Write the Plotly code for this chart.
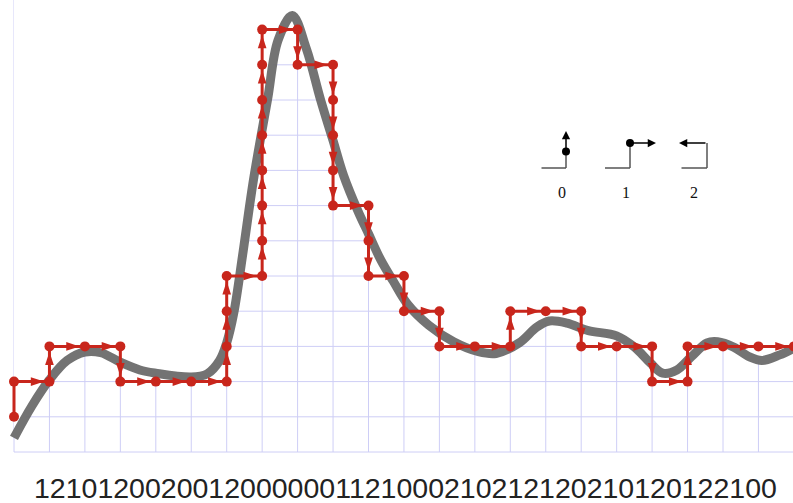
import plotly.graph_objects as go

# ---------------- data ----------------
code_text = "12101200200120000001121000210212120210120122100"

# staircase (chain-code) path vertices, grid units
path_x = [0, 0, 1, 1, 2, 3, 3, 4, 5, 6, 6, 6, 6, 7, 7, 7, 7, 7, 7, 7, 7, 8, 8, 9, 9,
          9, 9, 9, 10, 10, 10, 11, 11, 12, 12, 13, 14, 14, 15, 16, 16, 17, 18, 18, 19,
          19, 20, 21, 22]
path_y = [1, 2, 2, 3, 3, 3, 2, 2, 2, 2, 3, 4, 5, 5, 6, 7, 8, 9, 10, 11, 12, 12, 11, 11, 10,
          9, 8, 7, 7, 6, 5, 5, 4, 4, 3, 3, 3, 4, 4, 4, 3, 3, 3, 2, 2,
          3, 3, 3, 3]

# smooth signal
curve_x = [0, 0.5, 1.0, 1.5, 2.0, 2.45, 3.0, 3.55, 4.0, 5.0, 5.45, 5.8, 6.0, 6.2, 6.45,
           6.75, 7.15, 7.45, 7.85, 8.25, 8.65, 9.0, 9.3, 9.7, 10.0, 10.35, 10.7, 11.1,
           11.7, 12.4, 13.1, 13.6, 14.25, 14.75, 15.1, 15.6, 16.2, 17.0, 17.5, 17.95,
           18.3, 18.7, 19.1, 19.55, 19.85, 20.3, 20.75, 21.1, 21.6, 22.0]
curve_y = [0.4, 1.3, 2.05, 2.6, 2.84, 2.82, 2.55, 2.33, 2.24, 2.13, 2.22, 2.6, 3.1, 3.95,
           5.6, 7.7, 10.0, 11.7, 12.4, 11.45, 10.0, 8.85, 7.85, 6.85, 6.2, 5.45, 4.85, 4.2,
           3.6, 3.13, 2.85, 2.8, 3.1, 3.55, 3.72, 3.66, 3.45, 3.3, 2.98, 2.53, 2.24, 2.33,
           2.7, 3.1, 3.13, 2.98, 2.7, 2.6, 2.76, 2.95]

grid_cols = list(range(0, 23))
grid_rows = list(range(0, 13))

legend_labels = ["0", "1", "2"]

# ---------------- styling ----------------
W, H = 793, 503
RED = "#c8261c"
GRAY = "rgb(108,108,108)"
GRID = "rgb(206,206,246)"
XR = [-14 / 35.45, (W - 14) / 35.45]
YR = [-(H - 452) / 35.2, 452 / 35.2]

fig = go.Figure()

# grid (clipped later by white cover above the curve)
shapes = []
for c in grid_cols:
    shapes.append(dict(type="line", xref="x", yref="y", x0=c, x1=c, y0=0, y1=13.5,
                       line=dict(color=GRID, width=1), layer="below"))
for r in grid_rows:
    shapes.append(dict(type="line", xref="x", yref="y", x0=grid_cols[0], x1=grid_cols[-1],
                       y0=r, y1=r, line=dict(color=GRID, width=1), layer="below"))

# white cover above the curve
fig.add_trace(go.Scatter(x=curve_x, y=curve_y, mode="lines",
                         line=dict(width=0, shape="spline", color="white"),
                         hoverinfo="skip", showlegend=False))
fig.add_trace(go.Scatter(x=[curve_x[0], curve_x[-1]], y=[13.5, 13.5], mode="lines",
                         line=dict(width=0, color="white"), fill="tonexty",
                         fillcolor="white", hoverinfo="skip", showlegend=False))

# gray smooth curve
fig.add_trace(go.Scatter(x=curve_x, y=curve_y, mode="lines",
                         line=dict(width=9, shape="spline", color=GRAY),
                         opacity=0.95, showlegend=False))

# red path
fig.add_trace(go.Scatter(x=path_x, y=path_y, mode="lines+markers",
                         line=dict(width=3, color=RED),
                         marker=dict(size=10, color=RED),
                         showlegend=False))

# arrowheads along segments (skip the first segment)
ax_x, ax_y, ang = [], [], []
for i in range(1, len(path_x) - 1):
    x0, y0, x1, y1 = path_x[i], path_y[i], path_x[i + 1], path_y[i + 1]
    t = 0.85
    ax_x.append(x0 + t * (x1 - x0))
    ax_y.append(y0 + t * (y1 - y0))
    if x1 > x0:
        ang.append(90)
    elif x1 < x0:
        ang.append(270)
    elif y1 > y0:
        ang.append(0)
    else:
        ang.append(180)
fig.add_trace(go.Scatter(x=ax_x, y=ax_y, mode="markers",
                         marker=dict(symbol="arrow", size=14, angle=ang, color=RED,
                                     line=dict(width=0)),
                         showlegend=False))

# ---------------- legend icons (pixel positions -> paper) ----------------
def px(x):
    return x / W


def py(y):
    return 1 - y / H


annotations = []
shapes += [
    # icon 0
    dict(type="line", xref="paper", yref="paper", x0=px(541.5), x1=px(566), y0=py(168), y1=py(168),
         line=dict(color="#555", width=1.5)),
    dict(type="line", xref="paper", yref="paper", x0=px(566), x1=px(566), y0=py(168), y1=py(150),
         line=dict(color="#555", width=1.5)),
    dict(type="circle", xref="paper", yref="paper", x0=px(562), x1=px(570), y0=py(147.5), y1=py(155.5),
         fillcolor="black", line=dict(width=0)),
    # icon 1
    dict(type="line", xref="paper", yref="paper", x0=px(605), x1=px(630), y0=py(168), y1=py(168),
         line=dict(color="#555", width=1.5)),
    dict(type="line", xref="paper", yref="paper", x0=px(630), x1=px(630), y0=py(168), y1=py(143),
         line=dict(color="#555", width=1.5)),
    dict(type="circle", xref="paper", yref="paper", x0=px(626), x1=px(634), y0=py(139), y1=py(147),
         fillcolor="black", line=dict(width=0)),
    # icon 2
    dict(type="line", xref="paper", yref="paper", x0=px(681.5), x1=px(707), y0=py(168), y1=py(168),
         line=dict(color="#555", width=1.5)),
    dict(type="line", xref="paper", yref="paper", x0=px(707), x1=px(707), y0=py(168), y1=py(143),
         line=dict(color="#555", width=1.5)),
]
arrow_common = dict(text="", showarrow=True, arrowhead=2, arrowsize=1.1, arrowwidth=1.5,
                    arrowcolor="black", xref="paper", yref="paper", axref="pixel", ayref="pixel")
annotations.append(dict(x=px(566), y=py(131), ax=0, ay=20, **arrow_common))
annotations.append(dict(x=px(656), y=py(143), ax=-26, ay=0, **arrow_common))
annotations.append(dict(x=px(679), y=py(143), ax=28, ay=0, **arrow_common))

for lab, cx in zip(legend_labels, [562, 626, 694]):
    annotations.append(dict(text=lab, x=px(cx), y=py(192), xref="paper", yref="paper",
                            showarrow=False, xanchor="center", yanchor="middle",
                            font=dict(family="Liberation Serif, Times New Roman, serif",
                                      size=16, color="#111")))

# code string under the chart
annotations.append(dict(text=code_text, x=px(405), y=py(488), xref="paper", yref="paper",
                        showarrow=False, xanchor="center", yanchor="middle", borderpad=0,
                        font=dict(family="Liberation Sans, Arial, sans-serif", size=28.5,
                                  color="#222222")))

fig.update_layout(
    width=W, height=H,
    margin=dict(l=0, r=0, t=0, b=0),
    paper_bgcolor="white", plot_bgcolor="white",
    xaxis=dict(range=XR, visible=False, fixedrange=True),
    yaxis=dict(range=YR, visible=False, fixedrange=True),
    shapes=shapes, annotations=annotations,
    showlegend=False,
)

fig.write_html("out.html", config={"displayModeBar": False},
               post_script="document.body.style.margin='0px';document.body.style.overflow='hidden';")
